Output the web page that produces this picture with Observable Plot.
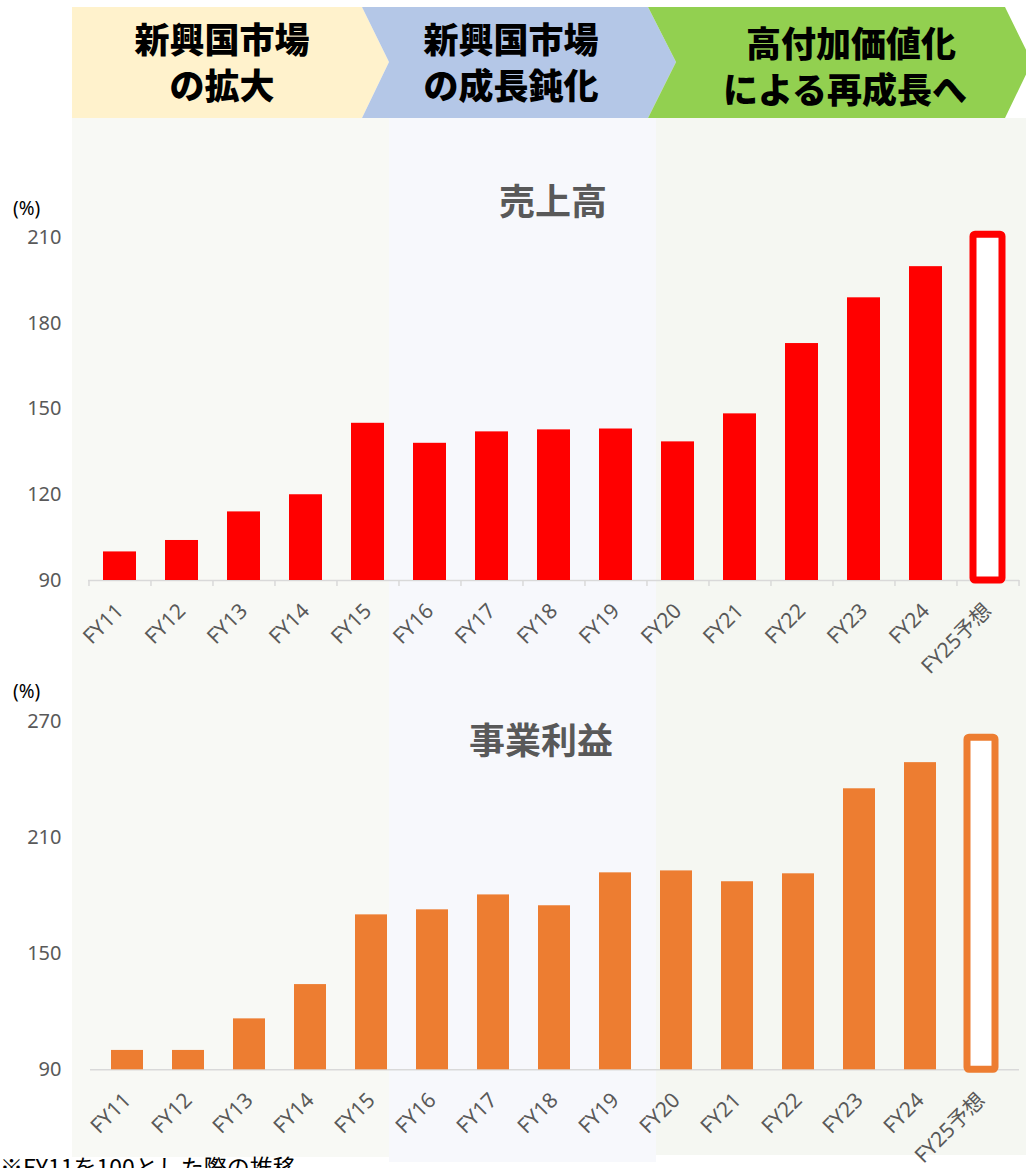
<!DOCTYPE html>
<html lang="ja">
<head>
<meta charset="utf-8">
<script src="https://cdn.jsdelivr.net/npm/d3@7"></script>
<script src="https://cdn.jsdelivr.net/npm/@observablehq/plot@0.6"></script>
<style>
  html, body { margin: 0; padding: 0; background: #ffffff; }
  #page { position: relative; width: 1026px; height: 1168px; overflow: hidden; font-family: "Noto Sans", "Noto Sans CJK JP", sans-serif; }
  .abs { position: absolute; }
  .panel { position: absolute; }
  .hdr { position: absolute; transform: translate(-50%, -50%); font-family: "Noto Sans CJK JP", sans-serif; font-weight: 900; font-size: 35px; color: #000; white-space: nowrap; line-height: 1; }
  .ttl { position: absolute; transform: translate(-50%, -50%); font-family: "Noto Sans CJK JP", sans-serif; font-weight: 700; font-size: 36px; color: #595959; white-space: nowrap; line-height: 1; }
  .unit { position: absolute; font-family: "Noto Sans", sans-serif; font-size: 19px; color: #000; line-height: 1; transform: translateY(-50%); }
  .chart { position: absolute; left: 0; }
</style>
</head>
<body>
<div id="page">
  <div class="panel" style="left:72px; top:118px; width:317px; height:1039px; background:#f8f9f5;"></div>
  <div class="panel" style="left:389px; top:118px; width:267px; height:1044px; background:#f7f8fc;"></div>
  <div class="panel" style="left:656px; top:118px; width:370px; height:1037px; background:#f5f7f2;"></div>

  <svg class="abs" style="left:0; top:0;" width="1026" height="120">
    <polygon points="72,7 362,7 389,62 362,118 72,118" fill="#fff2cc"/>
    <polygon points="362,7 648,7 676,62 648,118 362,118 389,62" fill="#b4c7e7"/>
    <polygon points="648,7 1005,7 1032,62 1005,118 648,118 676,62" fill="#92d050"/>
  </svg>
  <div class="hdr" style="left:222px; top:37px;">新興国市場</div>
  <div class="hdr" style="left:222px; top:83px;">の拡大</div>
  <div class="hdr" style="left:511px; top:37px;">新興国市場</div>
  <div class="hdr" style="left:511px; top:83px;">の成長鈍化</div>
  <div class="hdr" style="left:851px; top:41px;">高付加価値化</div>
  <div class="hdr" style="left:845px; top:87px;">による再成長へ</div>

  <div class="ttl" style="left:553px; top:199px;">売上高</div>
  <div class="ttl" style="left:541px; top:738px;">事業利益</div>
  <div class="unit" style="left:13px; top:208px;">(%)</div>
  <div class="unit" style="left:13px; top:691px;">(%)</div>

  <div id="chart1" class="chart" style="top:220px;"></div>
  <div id="chart2" class="chart" style="top:700px;"></div>

  <div class="abs" style="left:0; top:1155px; font-family:'Noto Sans CJK JP', sans-serif; font-size:23px; color:#000; white-space:nowrap; line-height:1;">※FY11を100とした際の推移</div>
</div>

<script>
// ---- data ----
const fiscalYears = ["FY11","FY12","FY13","FY14","FY15","FY16","FY17","FY18","FY19","FY20","FY21","FY22","FY23","FY24","FY25予想"];
const salesIndex  = [100, 104, 114, 120, 145, 138, 142, 142.7, 143, 138.5, 148.3, 172.9, 188.9, 199.8, 211];
const profitIndex = [100, 100, 116.3, 134, 170, 172.6, 180.3, 174.7, 191.7, 192.7, 187.1, 191.2, 235.1, 248.6, 261.5];
const forecastLabel = "FY25予想";
const salesTicks  = [90, 120, 150, 180, 210];
const profitTicks = [90, 150, 210, 270];

function makeChart({values, ticks, color, height, marginTop, marginBottom, marginLeft, boundaryTicks}) {
  const rows = fiscalYears.map((fy, i) => ({fy, v: values[i], forecast: fy === forecastLabel}));
  const base = ticks[0];
  const marginRight = 7;
  const step = (1026 - marginLeft - marginRight) / fiscalYears.length;
  const marks = [
    Plot.ruleY([base], {stroke: "#d9d9d9", strokeWidth: 1.5}),
  ];
  if (boundaryTicks) {
    marks.push(Plot.axisX({ticks: fiscalYears, tickSize: 6, text: null, label: null, dx: -step / 2, stroke: "#d9d9d9", strokeWidth: 1.5}));
    marks.push(Plot.axisX({ticks: [forecastLabel], tickSize: 6, text: null, label: null, dx: step / 2, stroke: "#d9d9d9", strokeWidth: 1.5}));
  }
  marks.push(
    Plot.barY(rows.filter(d => !d.forecast), {x: "fy", y1: () => base, y2: "v", fill: color}),
    Plot.barY(rows.filter(d => d.forecast), {x: "fy", y1: () => base, y2: "v", fill: "#ffffff", stroke: color, strokeWidth: 7, insetLeft: 2, insetRight: 2, rx: 2}),
    Plot.axisY({ticks, tickSize: 0, tickPadding: marginLeft - 61, fontSize: 20, fill: "#595959", label: null}),
    Plot.axisX({ticks: fiscalYears, tickSize: 0, tickPadding: 27, tickRotate: -45, fontSize: 21, fill: "#595959", label: null})
  );
  return Plot.plot({
    width: 1026,
    height,
    marginTop,
    marginBottom,
    marginLeft,
    marginRight,
    style: {background: "transparent", fontFamily: "'Noto Sans', 'Noto Sans CJK JP', sans-serif", color: "#595959", overflow: "visible"},
    x: {type: "band", domain: fiscalYears, paddingInner: 0.47, paddingOuter: 0.235, axis: null, label: null},
    y: {domain: [ticks[0], ticks[ticks.length - 1]], axis: null, label: null},
    marks
  });
}

document.getElementById("chart1").appendChild(makeChart({
  values: salesIndex, ticks: salesTicks, color: "#ff0000",
  height: 470, marginTop: 17, marginBottom: 110, marginLeft: 88, boundaryTicks: true
}));
document.getElementById("chart2").appendChild(makeChart({
  values: profitIndex, ticks: profitTicks, color: "#ed7d31",
  height: 468, marginTop: 20.7, marginBottom: 98.7, marginLeft: 90, boundaryTicks: false
}));
</script>
</body>
</html>
